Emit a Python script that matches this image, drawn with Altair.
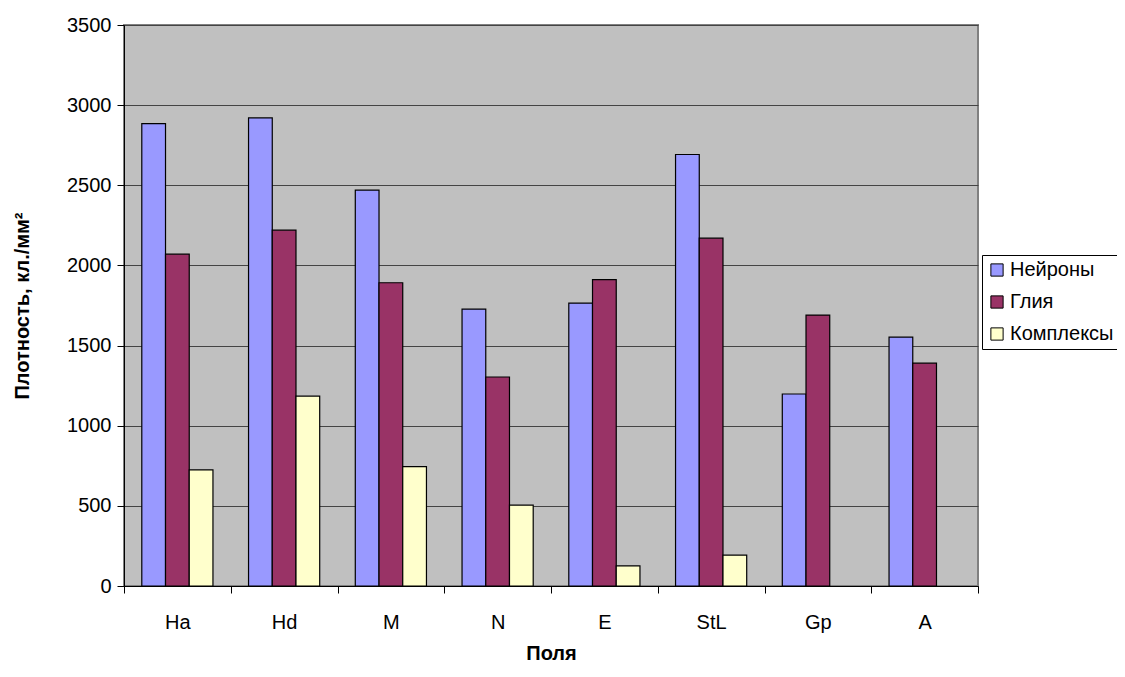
import altair as alt
import pandas as pd

categories = ["Ha", "Hd", "M", "N", "E", "StL", "Gp", "A"]
series = ["Нейроны", "Глия", "Комплексы"]
neurons = [2885, 2920, 2470, 1728, 1765, 2692, 1198, 1553]
glia = [2070, 2220, 1892, 1304, 1912, 2170, 1690, 1390]
complexes = [724, 1185, 745, 505, 125, 193, None, None]
colors = ["#9999FF", "#993366", "#FFFFCC"]

rows = []
for i, c in enumerate(categories):
    for s, vals in zip(series, [neurons, glia, complexes]):
        if vals[i] is not None:
            rows.append({"Поле": c, "Серия": s, "Значение": vals[i]})
df = pd.DataFrame(rows)

FONT = "Liberation Sans"
LFS = 20

bars = alt.Chart(df).mark_bar(stroke="black", strokeWidth=1.2, opacity=1).encode(
    x=alt.X("Поле:N", sort=categories,
            scale=alt.Scale(paddingInner=0, paddingOuter=0),
            axis=alt.Axis(title="Поля", labelAngle=0, tickBand="extent",
                          labelFontSize=LFS, titleFontSize=LFS, titleFontWeight="bold",
                          labelColor="black", titleColor="black",
                          domainColor="black", tickColor="black", tickSize=7,
                          labelPadding=19, titlePadding=11, grid=False)),
    xOffset=alt.XOffset("Серия:N", sort=series,
                        scale=alt.Scale(domain=series, paddingInner=0, paddingOuter=0.75)),
    y=alt.Y("Значение:Q",
            scale=alt.Scale(domain=[0, 3500], nice=False),
            axis=alt.Axis(title="Плотность, кл./мм²", values=list(range(0, 3501, 500)),
                          format="d",
                          labelFontSize=LFS, titleFontSize=LFS, titleFontWeight="bold",
                          labelColor="black", titleColor="black",
                          domainColor="black", tickColor="black", tickSize=7,
                          labelPadding=6, titlePadding=34,
                          grid=True, gridColor="#444444", gridWidth=1.2)),
    color=alt.Color("Серия:N", sort=series,
                    scale=alt.Scale(domain=series, range=colors),
                    legend=alt.Legend(title=None, orient="none", legendX=858, legendY=230,
                                      symbolType="square", symbolSize=150,
                                      symbolStrokeColor="black", symbolStrokeWidth=1,
                                      labelFontSize=LFS, labelColor="black",
                                      labelOffset=3, rowPadding=12,
                                      padding=5, strokeColor="black", fillColor="white")),
)

chart = bars.properties(
    width=854, height=561,
    autosize=alt.AutoSizeParams(type="none"),
    padding={"left": 116, "top": 17, "right": 139, "bottom": 82},
).configure(
    font=FONT
).configure_view(
    fill="#C0C0C0", stroke="#808080", strokeWidth=2
).configure_axis(
    labelFont=FONT, titleFont=FONT
).configure_legend(
    labelFont=FONT
)

chart.save("out.html", embed_options={"renderer": "svg", "actions": False})
